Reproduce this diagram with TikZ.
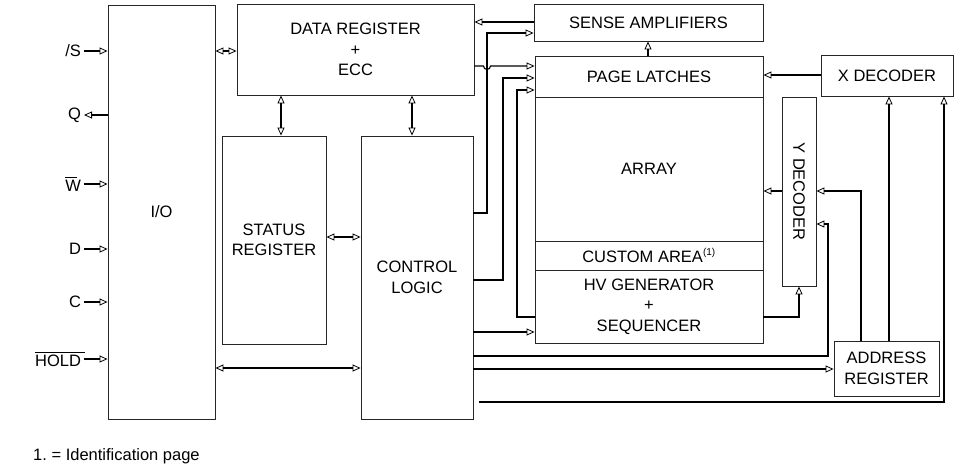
\documentclass[tikz,border=0pt]{standalone}
\usepackage{fontspec}
\setmainfont{Liberation Sans}
\usetikzlibrary{arrows.meta}
\frenchspacing
\begin{document}
\begin{tikzpicture}[x=1pt,y=-1pt,
  box/.style={draw=black!85, line width=0.9pt, inner sep=0pt, align=center,
    font=\fontsize{16.5}{20.5}\selectfont},
  wire/.style={line width=1.1pt, black},
  >={Triangle[open,length=8pt,width=7pt,line width=0.8pt]},
  lbl/.style={inner sep=0pt, outer xsep=3pt, anchor=east, font=\fontsize{16.5}{20}\selectfont}]
\useasboundingbox (0,0) rectangle (974,475);
% blocks
\node[box, minimum width=107pt, minimum height=414pt] (io) at (161.5,212) {I/O};
\node[box, minimum width=237pt, minimum height=91pt] (dreg) at (355.5,49.5) {DATA REGISTER\\+\\ECC};
\node[box, minimum width=104pt, minimum height=208pt] (sreg) at (274,240) {STATUS\\REGISTER};
\node[box, minimum width=112pt, minimum height=283pt] (ctrl) at (417,277.5) {CONTROL\\LOGIC};
\node[box, minimum width=229pt, minimum height=37pt] (sense) at (648.5,22.5) {SENSE AMPLIFIERS};
\node[box, minimum width=228pt, minimum height=41pt] (page) at (649,76.5) {PAGE LATCHES};
\node[box, minimum width=228pt, minimum height=144pt] (array) at (649,169) {ARRAY};
\node[box, minimum width=228pt, minimum height=29pt] (custom) at (649,255.5) {CUSTOM AREA\textsuperscript{\fontsize{10}{10}\selectfont(1)}};
\node[box, minimum width=228pt, minimum height=73pt] (hv) at (649,306.5) {HV GENERATOR\\+\\SEQUENCER};
\node[box, minimum width=34pt, minimum height=189pt] (ydec) at (799,191.5) {};
\node[rotate=-90, font=\fontsize{16.5}{20}\selectfont, inner sep=0pt] (ydectxt) at (ydec.center) {Y DECODER};
\node[box, minimum width=132pt, minimum height=41pt] (xdec) at (887,75.5) {X DECODER};
\node[box, minimum width=105pt, minimum height=55pt] (addr) at (886.5,368.5) {ADDRESS\\REGISTER};
% pin labels
\node[lbl] (lS) at (84,51) {/S};
\node[lbl] (lQ) at (84,115) {Q};
\node[lbl] (lW) at (84,184) {\rlap{\rule[13pt]{11.5pt}{1.3pt}}W};
\node[lbl] (lD) at (84,249) {D};
\node[lbl] (lC) at (84,302) {C};
\node[lbl] (lH) at (84,359) {\rlap{\rule[13pt]{50pt}{1.3pt}}HOLD};
% pin connectors
\draw[wire,->] (lS.east) -- (lS.east -| io.west);
\draw[wire,->] (lQ.east -| io.west) -- (lQ.east);
\draw[wire,->] (lW.east) -- (lW.east -| io.west);
\draw[wire,->] (lD.east) -- (lD.east -| io.west);
\draw[wire,->] (lC.east) -- (lC.east -| io.west);
\draw[wire,->] (lH.east) -- (lH.east -| io.west);
% internal connectors
\draw[wire,<->] (io.east |- 0,51) -- (dreg.west |- 0,51);
\draw[wire,<->] (dreg.south -| 281,0) -- (sreg.north -| 281,0);
\draw[wire,<->] (dreg.south -| 412,0) -- (ctrl.north -| 412,0);
\draw[wire,<->] (sreg.east |- 0,237) -- (ctrl.west |- 0,237);
\draw[wire,<->] (io.east |- 0,368) -- (ctrl.west |- 0,368);
\draw[wire,->] (sense.west |- 0,22) -- (dreg.east |- 0,22);
\draw[wire,->] (ctrl.east |- 0,213) -| (487,33) -- (sense.west |- 0,33);
\draw[wire,->] (dreg.east |- 0,66) -- (483.5,66) arc[start angle=180,end angle=0,radius=3.5] -- (page.west |- 0,66);
\draw[wire,->] (ctrl.east |- 0,280) -| (503,78) -- (page.west |- 0,78);
\draw[wire,->] (hv.west |- 0,317) -| (517,90) -- (page.west |- 0,90);
\draw[wire,->] (ctrl.east |- 0,332) -- (hv.west |- 0,332);
\draw[wire,->] (page.north -| 648,0) -- (sense.south -| 648,0);
\draw[wire,->] (xdec.west |- 0,75) -- (page.east |- 0,75);
\draw[wire,->] (ydec.west |- 0,191) -- (array.east |- 0,191);
\draw[wire,->] (addr.north -| 861,0) |- (ydec.east |- 0,191);
\draw[wire,->] (ctrl.east |- 0,356) -| (828,224) -- (ydec.east |- 0,224);
\draw[wire,->] (ctrl.east |- 0,369) -- (addr.west |- 0,369);
\coordinate (cb) at (479,402);
\draw[wire,->] (cb) -| (xdec.south -| 944,0);
\draw[wire,->] (addr.north -| 889,0) -- (xdec.south -| 889,0);
\draw[wire,->] (hv.east |- 0,317) -| (ydec.south);
% footnote
\node[anchor=west, inner sep=0pt, font=\fontsize{16.5}{20}\selectfont] (note) at (33,456) {1. = Identification page};
\end{tikzpicture}
\end{document}
